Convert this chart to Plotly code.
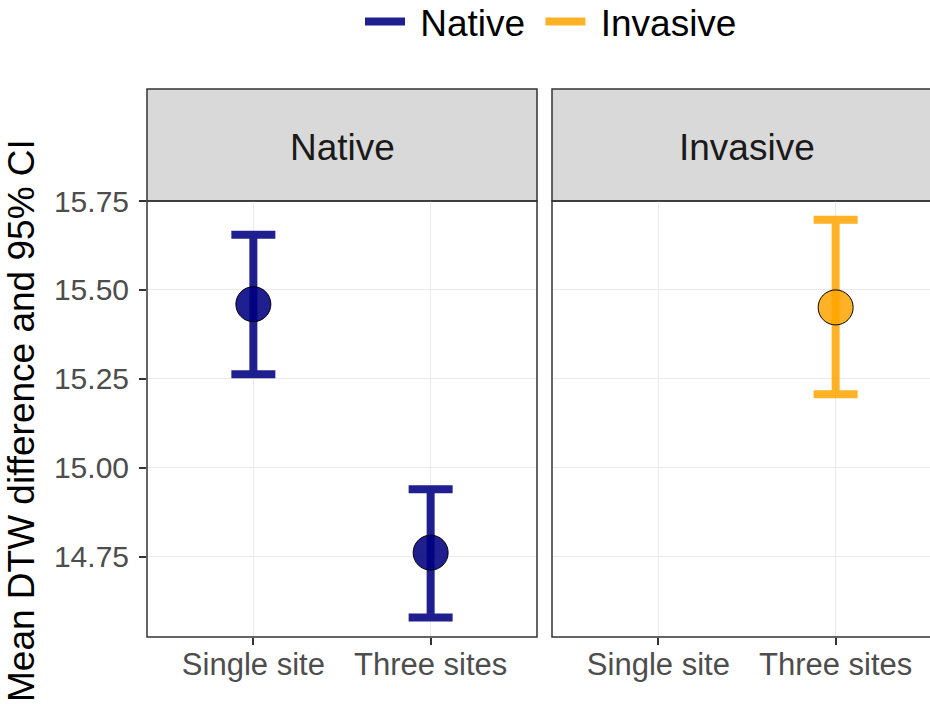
import plotly.graph_objects as go

# ---- data ----
groups = ["Native", "Invasive"]
categories = ["Single site", "Three sites"]
native_x = [1, 2]
native_mean = [15.46, 14.762]
native_lower = [15.263, 14.58]
native_upper = [15.655, 14.94]
invasive_x = [2]
invasive_mean = [15.451]
invasive_lower = [15.207]
invasive_upper = [15.697]
y_ticks = [14.75, 15.00, 15.25, 15.50, 15.75]
y_ticklabels = ["14.75", "15.00", "15.25", "15.50", "15.75"]

navy = "rgba(0,0,128,0.88)"
orange = "rgba(255,165,0,0.85)"
FONT = "Liberation Sans, Arial, sans-serif"

W, H = 930, 704
ML, MR, MT, MB = 147, 0, 89, 67
PW = W - ML - MR
PH = H - MT - MB
panel_h = 436
ydom_top = panel_h / PH
p1 = (0.0, 390 / PW)
p2 = ((552 - 147) / PW, (942 - 147) / PW)
unit = 390 / 2.2

def px_x(x):  # reference pixel -> paper
    return (x - ML) / PW

def px_y(y):
    return (H - MB - y) / PH

fig = go.Figure()

def add_group(xs, means, lows, ups, color, xa, ya):
    fig.add_trace(go.Scatter(
        x=xs, y=means, mode="markers", xaxis=xa, yaxis=ya, showlegend=False,
        marker=dict(size=35, color=color, line=dict(color="black", width=1)),
        error_y=dict(type="data", symmetric=False,
                     array=[u - m for u, m in zip(ups, means)],
                     arrayminus=[m - l for m, l in zip(means, lows)],
                     color=color, thickness=8, width=22),
        cliponaxis=False,
    ))

add_group(native_x, native_mean, native_lower, native_upper, navy, "x", "y")
add_group(invasive_x, invasive_mean, invasive_lower, invasive_upper, orange, "x2", "y2")

# legend entries
legend_names = ["\u00a0" + groups[0] + "\u00a0", "\u00a0" + groups[1]]
for name, col in zip(legend_names, [navy, orange]):
    fig.add_trace(go.Scatter(x=[None], y=[None], mode="lines", name=name,
                             line=dict(color=col, width=8), xaxis="x", yaxis="y"))

xcommon = dict(tickvals=[1, 2], ticktext=categories, ticks="outside", ticklen=7,
               tickwidth=1.5, tickcolor="#333333", showgrid=True, gridcolor="#EBEBEB",
               gridwidth=1, zeroline=False, showline=False, automargin=False,
               ticklabelstandoff=-7,
               tickfont=dict(family=FONT, size=31, color="#4D4D4D"))
fig.update_layout(
    width=W, height=H, margin=dict(l=ML, r=MR, t=MT, b=MB, autoexpand=False),
    paper_bgcolor="white", plot_bgcolor="white",
    xaxis=dict(domain=list(p1), range=[0.4, 2.6], anchor="y", **xcommon),
    xaxis2=dict(domain=[p2[0], 1.0], range=[0.4, 0.4 + (W - 552) / unit],
                anchor="y2", **xcommon),
    yaxis=dict(domain=[0, ydom_top], range=[14.525, 15.75], tickvals=y_ticks,
               ticktext=y_ticklabels, ticks="outside", ticklen=7, tickwidth=1.5,
               tickcolor="#333333", showgrid=True, gridcolor="#EBEBEB", zeroline=False,
               ticklabelstandoff=4, automargin=False,
               tickfont=dict(family=FONT, size=30, color="#4D4D4D"), anchor="x"),
    yaxis2=dict(domain=[0, ydom_top], range=[14.525, 15.75], tickvals=y_ticks,
                showticklabels=False, ticks="", showgrid=True, gridcolor="#EBEBEB",
                zeroline=False, anchor="x2", matches="y", automargin=False),
    legend=dict(orientation="h", x=px_x(551), xanchor="center",
                y=px_y(22), yanchor="middle",
                font=dict(family=FONT, size=37, color="black"),
                itemwidth=40, bgcolor="rgba(0,0,0,0)"),
    showlegend=True,
)

shapes = []
for (x0, x1) in [p1, p2]:
    shapes.append(dict(type="rect", xref="paper", yref="paper", x0=x0, x1=x1,
                       y0=ydom_top, y1=1, fillcolor="#D9D9D9",
                       line=dict(color="#333333", width=1.5), layer="below"))
    shapes.append(dict(type="rect", xref="paper", yref="paper", x0=x0, x1=x1,
                       y0=0, y1=ydom_top, fillcolor="rgba(0,0,0,0)",
                       line=dict(color="#333333", width=1.5), layer="above"))
fig.update_layout(shapes=shapes)

annotations = []
for g, (x0, x1) in zip(groups, [p1, p2]):
    annotations.append(dict(text=g, xref="paper", yref="paper", x=(x0 + x1) / 2,
                            y=px_y(147), showarrow=False, xanchor="center",
                            yanchor="middle",
                            font=dict(family=FONT, size=37, color="#1A1A1A")))
annotations.append(dict(text="Mean DTW difference and 95% CI", xref="paper", yref="paper",
                        x=px_x(21), y=px_y(421), showarrow=False,
                        textangle=-90, xanchor="center", yanchor="middle",
                        font=dict(family=FONT, size=37, color="black")))
fig.update_layout(annotations=annotations)

fig.write_html("out.html", config={"displayModeBar": False},
               post_script="document.body.style.margin='0';document.body.style.overflow='hidden';")
